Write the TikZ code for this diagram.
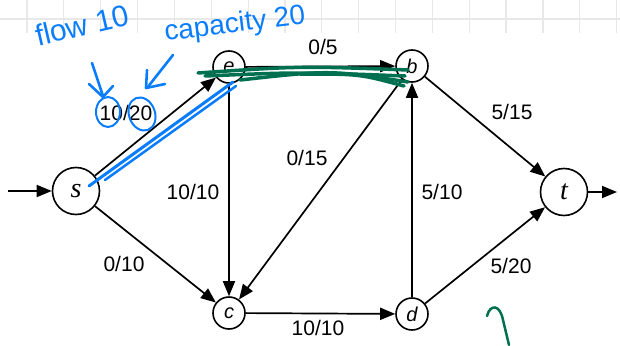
\documentclass[tikz,border=0pt]{standalone}
\usepackage{fontspec}
\setmainfont{Liberation Sans}
\newfontfamily\vtxfont{Liberation Serif}
\usetikzlibrary{positioning, calc, arrows.meta}

\definecolor{inkblue}{RGB}{10,125,255}
\definecolor{inkgreen}{RGB}{0,112,80}

\tikzset{
    vtx/.style={draw, circle, line width=1.6pt, minimum size=47pt, inner sep=0pt, font=\fontsize{28}{28}\vtxfont\itshape},
    mid/.style={draw, circle, line width=1.6pt, minimum size=32pt, inner sep=0pt, font=\fontsize{20}{20}\selectfont\itshape},
    flow/.style={-{Triangle[length=15pt,width=12pt]}, line width=1.7pt},
    fclabel/.style={font=\fontsize{21}{21}\selectfont},
    ink/.style={color=inkblue, line width=2.6pt, line cap=round, line join=round},
    inktext/.style={text=inkblue, font=\fontsize{30}{30}\selectfont},
    scrib/.style={color=inkgreen, line width=3.5pt, line cap=round}
}

\begin{document}
\begin{tikzpicture}[x=1pt, y=-1pt]
    \useasboundingbox (0,0) rectangle (620,345);

    % grid strip at the top
    \foreach \gx in {0,...,16}
        \draw[gray!18, line width=1.2pt] ({27+36.85*\gx},0) -- ++(0,33);
    \draw[gray!18, line width=1.2pt] (0,19) -- (620,19);

    % vertices
    \node[vtx] (s) at (76,191) {s};
    \node[vtx] (t) at (564,192) {t};
    \node[mid] (a) at (229,67) {e};
    \node[mid] (b) at (412,66) {b};
    \node[mid] (c) at (229,313) {c};
    \node[mid] (d) at (412,314) {d};

    \coordinate (in) at (8,191);
    \coordinate (out) at (617,192);

    % edges
    \draw[flow] (in) -- (s);
    \draw[flow] (t) -- (out);
    \draw[flow] (s) -- (a);
    \draw[flow] (s) -- (c);
    \draw[flow] (a) -- (b);
    \draw[flow] (a) -- (c);
    \draw[flow] (b) -- (c);
    \draw[flow] (b) -- (t);
    \draw[flow] (c) -- (d);
    \draw[flow] (d) -- (b);
    \draw[flow] (d) -- (t);

    % flow / capacity labels
    \node[fclabel] (lsa) at (126,113) {10/20};
    \node[fclabel] (lab) at (323,47) {0/5};
    \node[fclabel] (lbt) at (512,112) {5/15};
    \node[fclabel] (lbc) at (307,158) {0/15};
    \node[fclabel] (lac) at (193,192) {10/10};
    \node[fclabel] (ldb) at (442,192) {5/10};
    \node[fclabel] (lsc) at (124,264) {0/10};
    \node[fclabel] (ldt) at (511,266) {5/20};
    \node[fclabel] (lcd) at (318,328) {10/10};

    % handwritten notes
    \node[inktext, rotate=13] (nflow) at (82,25) {flow 10};
    \node[inktext, rotate=7, font=\fontsize{28}{28}\selectfont] (ncap) at (235,25) {capacity 20};
    \draw[ink] (92,63) -- (103,96);
    \draw[ink] (89,84) -- (103,97) -- (113,86);
    \draw[ink] (173,55) -- (147,88);
    \draw[ink] (147,70) -- (146,88) -- (165,84);
    \draw[ink, line width=2pt] (108,112) ellipse (12 and 15);
    \draw[ink, line width=2pt, rotate around={20:(142,114)}] (142,114) ellipse (13 and 17);
    \draw[ink, line width=3pt] (89,186) -- (233,82);
    \draw[ink, line width=2.5pt] (105,180) -- (236,86);

    % green scribble
    \draw[scrib] (198,73) .. controls (300,66) .. (408,70);
    \draw[scrib] (205,76) .. controls (300,72) .. (405,76);
    \draw[scrib] (240,80) .. controls (330,70) .. (408,82);
    \draw[scrib] (300,74) .. controls (360,74) .. (404,86);
    \draw[scrib, line width=2.5pt] (487,316) .. controls (490,304) and (500,304) .. (503,320) -- (509,345);
\end{tikzpicture}
\end{document}
